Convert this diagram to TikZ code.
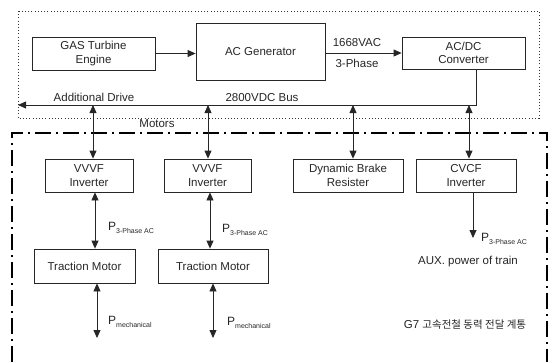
\documentclass[tikz,border=0pt]{standalone}
\usepackage{fontspec}
\setmainfont{Liberation Sans}
\newfontfamily\krfont{Noto Sans CJK KR}
\usetikzlibrary{arrows.meta}
\begin{document}
\begin{tikzpicture}[x=1pt,y=-1pt,
  blk/.style={draw=black!85,line width=0.8pt,minimum width=#1,inner sep=0pt,align=center,font=\fontsize{11.5}{13.5}\selectfont,text=black!85},
  conn/.style={line width=0.8pt,draw=black!85,-{Triangle[length=8pt,width=7pt]}},
  bconn/.style={line width=0.8pt,draw=black!85,{Triangle[length=8pt,width=7pt]}-{Triangle[length=8pt,width=7pt]}},
  lbl/.style={font=\fontsize{11.5}{13.5}\selectfont,text=black!85,inner sep=0pt},
  plbl/.style={font=\fontsize{12}{14}\selectfont,text=black!85,inner sep=0pt,anchor=west},
  dotbox/.style={draw=black!80,line width=0.9pt,dash pattern=on 1pt off 2.2pt},
  dashdot/.style={draw=black,line width=1.8pt,dash pattern=on 16pt off 5pt on 2pt off 5pt}
]
\useasboundingbox (0,0) rectangle (552,362);
% outer dotted box
\draw[dotbox] (18,11) rectangle (539,118);
% dash-dot boundary
\draw[dashdot] (12,362) -- (12,133) -- (547,133) -- (547,362);

% blocks
\node[blk=123pt,minimum height=33pt] (gas) at (93.5,53.5) {GAS Turbine\\Engine};
\node[blk=129pt,minimum height=57pt] (acgen) at (260.5,51.5) {AC Generator};
\node[blk=123pt,minimum height=32pt] (acdc) at (463.5,53) {AC/DC\\Converter};
\node[blk=88pt,minimum height=33pt] (vvvf1) at (89,175.5) {VVVF\\Inverter};
\node[blk=87pt,minimum height=33pt] (vvvf2) at (207.5,175.5) {VVVF\\Inverter};
\node[blk=110pt,minimum height=33pt] (dbr) at (348,175.5) {Dynamic Brake\\Resister};
\node[blk=100pt,minimum height=33pt] (cvcf) at (466,175.5) {CVCF\\Inverter};
\node[blk=101pt,minimum height=34pt] (tm1) at (84.5,266) {Traction Motor};
\node[blk=110pt,minimum height=34pt] (tm2) at (213,266) {Traction Motor};

% top connectors
\draw[conn] (gas.east) -- (gas.east -| acgen.west);
\draw[conn] (acgen.east |- acdc.west) -- (acdc.west);
\node[lbl] (v1668) at (357,43) {1668VAC};
\node[lbl] (ph3) at (357,63) {3-Phase};

% DC bus
\coordinate (busR) at (476,105);
\coordinate (busL) at (18,105);
\draw[conn] (acdc.south -| busR) -- (busR) -- (busL);
\node[lbl] (adddrive) at (94,97.5) {Additional Drive};
\node[lbl] (busl) at (262,97.5) {2800VDC Bus};
\node[lbl] (motors) at (157,124) {Motors};

% bus to lower blocks
\coordinate (b1) at (93,105);
\coordinate (b2) at (208,105);
\coordinate (b3) at (353,105);
\coordinate (b4) at (469,105);
\draw[bconn] (b1) -- (b1 |- vvvf1.north);
\draw[bconn] (b2) -- (b2 |- vvvf2.north);
\draw[bconn] (b3) -- (b3 |- dbr.north);
\draw[bconn] (b4) -- (b4 |- cvcf.north);

% inverters to motors
\coordinate (m1) at (95,200);
\coordinate (m2) at (210,200);
\draw[bconn] (m1 |- vvvf1.south) -- (m1 |- tm1.north);
\draw[bconn] (m2 |- vvvf2.south) -- (m2 |- tm2.north);
\node[plbl] (p1) at (108,228) {P\raisebox{-0.45ex}{\fontsize{7}{8}\selectfont 3-Phase AC}};
\node[plbl] (p2) at (222,230) {P\raisebox{-0.45ex}{\fontsize{7}{8}\selectfont 3-Phase AC}};

% motors mechanical
\coordinate (e1) at (97,338);
\coordinate (e2) at (213,338);
\draw[bconn] (e1 |- tm1.south) -- (e1);
\draw[bconn] (e2 |- tm2.south) -- (e2);
\node[plbl] (pm1) at (108,322) {P\raisebox{-0.45ex}{\fontsize{7}{8}\selectfont mechanical}};
\node[plbl] (pm2) at (227,323) {P\raisebox{-0.45ex}{\fontsize{7}{8}\selectfont mechanical}};

% CVCF output
\coordinate (aux) at (473,238);
\draw[conn] (aux |- cvcf.south) -- (aux);
\node[plbl] (p3) at (481,239) {P\raisebox{-0.45ex}{\fontsize{7}{8}\selectfont 3-Phase AC}};
\node[lbl] (auxl) at (468,262) {AUX. power of train};
\node[lbl] (title) at (465,325) {G7 {\krfont\fontsize{10.5}{12}\selectfont 고속전철 동력 전달 계통}};
\end{tikzpicture}
\end{document}
